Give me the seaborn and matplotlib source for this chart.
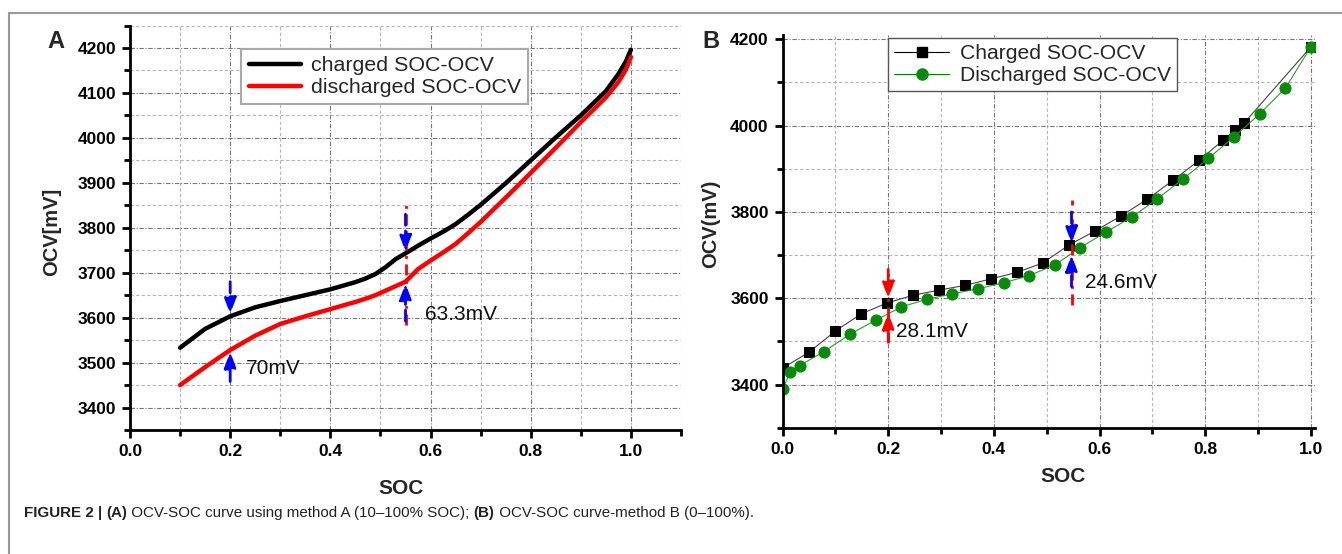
import numpy as np
import pandas as pd
import matplotlib
matplotlib.use("Agg")
import matplotlib.pyplot as plt
from matplotlib.lines import Line2D
from matplotlib.ticker import MultipleLocator, FormatStrFormatter
from matplotlib import font_manager
import seaborn as sns

# ---------------- data: panel A ----------------
socA = [0.10, 0.15, 0.20, 0.25, 0.30, 0.35, 0.40, 0.45, 0.47, 0.49, 0.51, 0.53, 0.55,
        0.575, 0.60, 0.625, 0.65, 0.675, 0.70, 0.75, 0.80, 0.85, 0.90, 0.95, 0.975, 0.99, 1.00]
chargedA = [3533, 3575, 3603, 3623, 3637, 3650, 3663, 3679, 3687, 3697, 3712, 3730, 3743,
            3760, 3776, 3791, 3808, 3829, 3851, 3899, 3950, 4001, 4050, 4104, 4142, 4170, 4196]
dischargedA = [3450, 3490, 3528, 3560, 3586, 3603, 3619, 3635, 3642, 3650, 3660, 3670, 3680,
               3708, 3727, 3745, 3764, 3788, 3813, 3867, 3922, 3978, 4035, 4090, 4124, 4152, 4180]

# ---------------- data: panel B ----------------
socB_ch = [0.0, 0.05, 0.10, 0.149, 0.198, 0.247, 0.297, 0.346, 0.395, 0.444, 0.493,
           0.543, 0.592, 0.641, 0.690, 0.740, 0.789, 0.834, 0.857, 0.873, 1.0]
ocvB_ch = [3438, 3475, 3524, 3564, 3589, 3607, 3619, 3630, 3645, 3660, 3682,
           3724, 3756, 3791, 3829, 3874, 3920, 3966, 3990, 4005, 4182]
socB_dis = [0.0, 0.014, 0.032, 0.078, 0.128, 0.176, 0.225, 0.274, 0.321, 0.370, 0.419,
            0.466, 0.515, 0.563, 0.612, 0.661, 0.709, 0.758, 0.806, 0.855, 0.903, 0.952, 1.0]
ocvB_dis = [3389, 3428, 3444, 3476, 3517, 3549, 3580, 3598, 3610, 3622, 3636,
            3652, 3677, 3717, 3753, 3788, 3830, 3876, 3924, 3974, 4027, 4087, 4182]

labelsA = ["charged SOC-OCV", "discharged SOC-OCV"]
labelsB = ["Charged SOC-OCV", "Discharged SOC-OCV"]
caption_parts = [("FIGURE 2 | ", "bold"), ("(A)", "bold"),
                 (" OCV-SOC curve using method A (10\u2013100% SOC); ", "normal"),
                 ("(B)", "bold"), (" OCV-SOC curve-method B (0\u2013100%).", "normal")]

sns.set_theme(style="white")
plt.rcParams["font.family"] = ["Liberation Sans", "DejaVu Sans"]

try:
    font_manager.findfont("Liberation Sans Narrow", fallback_to_default=False)
    cap_family = ["Liberation Sans Narrow", "Liberation Sans", "DejaVu Sans"]
    cap_size = 12.8
except Exception:
    cap_family = ["Liberation Sans", "DejaVu Sans"]
    cap_size = 10.9

W, H = 1342, 554
fig = plt.figure(figsize=(W / 100, H / 100), dpi=100)


def frac(l, t, r, b):
    return [l / W, 1 - b / H, (r - l) / W, (b - t) / H]


axA = fig.add_axes(frac(130, 25.5, 681, 430))
axB = fig.add_axes(frac(782.6, 35, 1315, 427.7))

dfA = pd.DataFrame({"SOC": socA * 2,
                    "OCV": chargedA + dischargedA,
                    "series": [labelsA[0]] * len(socA) + [labelsA[1]] * len(socA)})
sns.lineplot(data=dfA, x="SOC", y="OCV", hue="series",
             palette={labelsA[0]: "black", labelsA[1]: "#ff0000"},
             linewidth=3.2, ax=axA, legend=False, sort=False, estimator=None)

dfB1 = pd.DataFrame({"SOC": socB_ch, "OCV": ocvB_ch})
dfB2 = pd.DataFrame({"SOC": socB_dis, "OCV": ocvB_dis})
sns.lineplot(data=dfB1, x="SOC", y="OCV", color="#444444", linewidth=0.8, marker="s",
             markersize=7.5, markerfacecolor="black", markeredgecolor="black",
             ax=axB, sort=False, estimator=None)
sns.lineplot(data=dfB2, x="SOC", y="OCV", color="#2e9a2e", linewidth=0.8, marker="o",
             markersize=8, markerfacecolor="#0a8a0a", markeredgecolor="#0a8a0a",
             ax=axB, sort=False, estimator=None)


def style_axes(ax, xlim, ylim, ymaj, ymin_):
    ax.set_xlim(*xlim)
    ax.set_ylim(*ylim)
    ax.xaxis.set_major_locator(MultipleLocator(0.2))
    ax.xaxis.set_minor_locator(MultipleLocator(0.1))
    ax.yaxis.set_major_locator(MultipleLocator(ymaj))
    ax.yaxis.set_minor_locator(MultipleLocator(ymin_))
    ax.xaxis.set_major_formatter(FormatStrFormatter("%.1f"))
    for s in ["top", "right"]:
        ax.spines[s].set_visible(False)
    for s in ["left", "bottom"]:
        ax.spines[s].set_color("black")
        ax.spines[s].set_linewidth(2)
    ax.tick_params(which="major", direction="out", length=6, width=2, colors="black",
                   labelsize=12.5, pad=4, left=True, bottom=True)
    ax.tick_params(which="minor", direction="out", length=4, width=2, colors="black",
                   left=True, bottom=True)
    for lab in ax.get_xticklabels() + ax.get_yticklabels():
        lab.set_fontweight("bold")
    ax.grid(which="major", color="#777777", linestyle=(0, (4, 1.5, 1, 1.5)), linewidth=0.8)
    ax.grid(which="minor", color="#b5b5b5", linestyle=(0, (3, 2)), linewidth=0.8)
    ax.set_axisbelow(True)
    ax.set_facecolor("white")


style_axes(axA, (0, 1.1), (3350, 4250), 100, 50)
style_axes(axB, (0, 1.008), (3300, 4210), 200, 100)

axA.set_xlabel("SOC", fontsize=15, fontweight="bold", va="center")
axA.set_ylabel("OCV[mV]", fontsize=14.5, fontweight="bold", va="center")
axB.set_xlabel("SOC", fontsize=15, fontweight="bold", va="center")
axB.set_ylabel("OCV(mV)", fontsize=14.5, fontweight="bold", va="center")
# label centres measured in pixels -> axes fractions
axA.xaxis.set_label_coords((401 - 130) / 551, (430 - 488) / 404.5)
axA.yaxis.set_label_coords((52 - 130) / 551, 1 - (232 - 25.5) / 404.5)
axB.xaxis.set_label_coords((1063 - 782.6) / 532.4, (427.7 - 477) / 392.7)
axB.yaxis.set_label_coords((711 - 782.6) / 532.4, 1 - (224 - 35) / 392.7)

# legends
hA = [Line2D([], [], color="black", lw=3.2), Line2D([], [], color="#ff0000", lw=3.2)]
legA = axA.legend(hA, labelsA, loc="upper left", bbox_to_anchor=(0.2015, 0.942),
                  borderaxespad=0, fontsize=15.4, handlelength=2.45, handletextpad=0.45,
                  labelspacing=0.12, borderpad=0.35, fancybox=False, framealpha=1,
                  edgecolor="#aaaaaa")
legA.get_frame().set_linewidth(1.5)
hB = [Line2D([], [], color="black", lw=0.8, marker="s", markersize=7.5),
      Line2D([], [], color="green", lw=0.8, marker="o", markersize=8,
             markerfacecolor="#0a8a0a", markeredgecolor="#0a8a0a")]
legB = axB.legend(hB, labelsB, loc="upper left", bbox_to_anchor=(0.198, 0.992),
                  borderaxespad=0, fontsize=15.2, handlelength=2.6, handletextpad=0.5,
                  labelspacing=0.12, borderpad=0.3, fancybox=False, framealpha=1,
                  edgecolor="#555555")
legB.get_frame().set_linewidth(1.0)

ARROW = "-|>,head_length=0.8,head_width=0.3"


def arrow(ax, x, start, tip, color):
    ax.annotate("", xy=(x, tip), xytext=(x, start),
                arrowprops=dict(arrowstyle=ARROW, color=color, lw=2, linestyle=(0, (4, 2)),
                                shrinkA=0, shrinkB=0), zorder=5)


def gap_marks(ax, x, y_top, tip_top, tip_bot, y_bot, line_c, arrow_c, line_span):
    ax.plot([x, x], line_span, color=line_c, lw=2, linestyle=(0, (4, 2, 1, 2)), zorder=4)
    arrow(ax, x, y_top, tip_top, arrow_c)
    arrow(ax, x, y_bot, tip_bot, arrow_c)


# panel A annotations
arrow(axA, 0.2, 3680, 3608, "#0000ff")
arrow(axA, 0.2, 3458, 3524, "#0000ff")
gap_marks(axA, 0.55, 3830, 3747, 3676, 3592, "#ff0000", "#0000ff", (3583, 3853))
axA.text(0.232, 3486, "70mV", fontsize=15, va="center", ha="left", color="#111111")
axA.text(0.589, 3606, "63.3mV", fontsize=15, va="center", ha="left", color="#111111")

# panel B annotations
gap_marks(axB, 0.2, 3667, 3600, 3566, 3500, "#ff0000", "#ff0000", (3497, 3667))
gap_marks(axB, 0.547, 3800, 3728, 3700, 3627, "#ff0000", "#0000ff", (3584, 3828))
axB.text(0.214, 3523, "28.1mV", fontsize=15, va="center", ha="left", color="#111111")
axB.text(0.572, 3636, "24.6mV", fontsize=15, va="center", ha="left", color="#111111")

# panel letters
fig.text(56 / W, 1 - 42 / H, "A", fontsize=17, fontweight="bold", ha="center", va="center")
fig.text(711 / W, 1 - 41 / H, "B", fontsize=17, fontweight="bold", ha="center", va="center")

# figure frame
fig.add_artist(Line2D([9 / W, 1.0], [1 - 13 / H, 1 - 13 / H], color="#999999", lw=1.5,
                      transform=fig.transFigure))
fig.add_artist(Line2D([9 / W, 9 / W], [0, 1 - 13 / H], color="#999999", lw=1.5,
                      transform=fig.transFigure))

# caption (pieces chained one after another)
prev = fig.text(24 / W, 1 - 513 / H, caption_parts[0][0], fontsize=cap_size,
                family=cap_family, fontweight=caption_parts[0][1], ha="left", va="center",
                color="#222222")
for txt, wt in caption_parts[1:]:
    prev = axA.annotate(txt, xy=(1, 0.5), xycoords=prev, xytext=(0, 0),
                        textcoords="offset points", ha="left", va="center",
                        fontsize=cap_size, family=cap_family, fontweight=wt,
                        color="#222222", annotation_clip=False)

fig.savefig("out.png", dpi=100, facecolor="white")
